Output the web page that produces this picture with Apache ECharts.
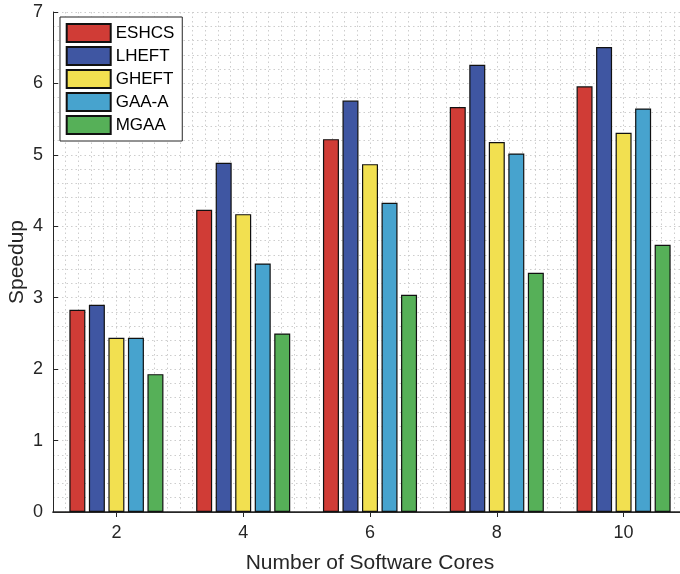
<!DOCTYPE html>
<html>
<head>
<meta charset="utf-8">
<script src="https://cdn.jsdelivr.net/npm/echarts@6/dist/echarts.min.js"></script>
<style>
  html, body { margin: 0; padding: 0; background: #fff; }
  #chart { width: 680px; height: 574px; }
</style>
</head>
<body>
<div id="chart"></div>
<script>
// Speedup per algorithm for each software-core count
const categories = ['2', '4', '6', '8', '10'];
const seriesNames = ['ESHCS', 'LHEFT', 'GHEFT', 'GAA-A', 'MGAA'];
const eshcs = [2.83, 4.23, 5.22, 5.67, 5.96];
const lheft = [2.90, 4.89, 5.76, 6.26, 6.51];
const gheft = [2.44, 4.17, 4.87, 5.18, 5.31];
const gaaA  = [2.44, 3.48, 4.33, 5.02, 5.65];
const mgaa  = [1.93, 2.50, 3.04, 3.35, 3.74];
const yTicks = [0, 1, 2, 3, 4, 5, 6, 7];

const seriesValues = [eshcs, lheft, gheft, gaaA, mgaa];
const colors = ['#d03c36', '#3f56a2', '#f2e050', '#47a3ce', '#56b058'];

const FONT = '"Liberation Sans", Arial, Helvetica, sans-serif';
const AXIS_COLOR = '#262626';
const dotted = { color: '#cdcdcd', width: 1, type: [1.5, 3] };

const chart = echarts.init(document.getElementById('chart'), null, { renderer: 'canvas' });

chart.setOption({
  animation: false,
  backgroundColor: '#ffffff',
  textStyle: { fontFamily: FONT },
  grid: { left: 53, top: 12, right: -7, bottom: 62, containLabel: false, outerBoundsMode: 'none' },
  legend: {
    orient: 'vertical',
    left: 60,
    top: 17,
    itemWidth: 44,
    itemHeight: 18,
    itemGap: 3,
    padding: [6, 8, 6, 5.7],
    backgroundColor: '#ffffff',
    borderColor: AXIS_COLOR,
    borderWidth: 1,
    borderRadius: 0,
    icon: 'rect',
    textStyle: { fontSize: 17, color: '#000', fontFamily: FONT },
    data: seriesNames
  },
  xAxis: [
    {
      type: 'category',
      data: categories,
      position: 'bottom',
      axisLine: { show: true, lineStyle: { color: AXIS_COLOR, width: 1.5 } },
      axisTick: { show: true, inside: true, length: 5, alignWithLabel: true, lineStyle: { color: AXIS_COLOR } },
      axisLabel: { fontSize: 18, color: AXIS_COLOR, margin: 12, fontFamily: FONT },
      splitLine: { show: false },
      name: 'Number of Software Cores',
      nameLocation: 'middle',
      nameGap: 41,
      nameMoveOverlap: false,
      nameTextStyle: { fontSize: 21, color: AXIS_COLOR, fontFamily: FONT }
    },
    {
      type: 'category',
      data: categories,
      position: 'top',
      axisLine: { show: true, lineStyle: { color: AXIS_COLOR, width: 1 } },
      axisTick: { show: true, inside: true, length: 5, alignWithLabel: true, lineStyle: { color: AXIS_COLOR } },
      axisLabel: { show: false },
      splitLine: { show: false }
    },
    {
      // fine vertical grid every 0.2 of the underlying numeric core axis
      type: 'value',
      min: 1,
      max: 11,
      interval: 0.2,
      position: 'bottom',
      axisLine: { show: false },
      axisTick: { show: false },
      axisLabel: { show: false },
      splitLine: { show: true, lineStyle: dotted }
    }
  ],
  yAxis: [
    {
      type: 'value',
      min: yTicks[0],
      max: yTicks[yTicks.length - 1],
      interval: 1,
      axisLine: { show: true, lineStyle: { color: AXIS_COLOR, width: 1 } },
      axisTick: { show: true, inside: true, length: 5, lineStyle: { color: AXIS_COLOR } },
      axisLabel: { fontSize: 18, color: AXIS_COLOR, margin: 10, fontFamily: FONT },
      splitLine: { show: false },
      name: 'Speedup',
      nameLocation: 'middle',
      nameGap: 25,
      nameRotate: 90,
      nameMoveOverlap: false,
      nameTextStyle: { fontSize: 21, color: AXIS_COLOR, fontFamily: FONT }
    },
    {
      // fine horizontal grid every 0.2
      type: 'value',
      min: 0,
      max: 7,
      interval: 0.2,
      axisLine: { show: false },
      axisTick: { show: false },
      axisLabel: { show: false },
      splitLine: { show: true, lineStyle: dotted }
    }
  ],
  series: seriesNames.map((name, i) => ({
    name: name,
    type: 'bar',
    xAxisIndex: 0,
    yAxisIndex: 0,
    data: seriesValues[i],
    barWidth: 16,
    barGap: '22%',
    itemStyle: { color: colors[i], borderColor: '#111111', borderWidth: 1.2 },
    emphasis: { disabled: true }
  }))
});
</script>
</body>
</html>
